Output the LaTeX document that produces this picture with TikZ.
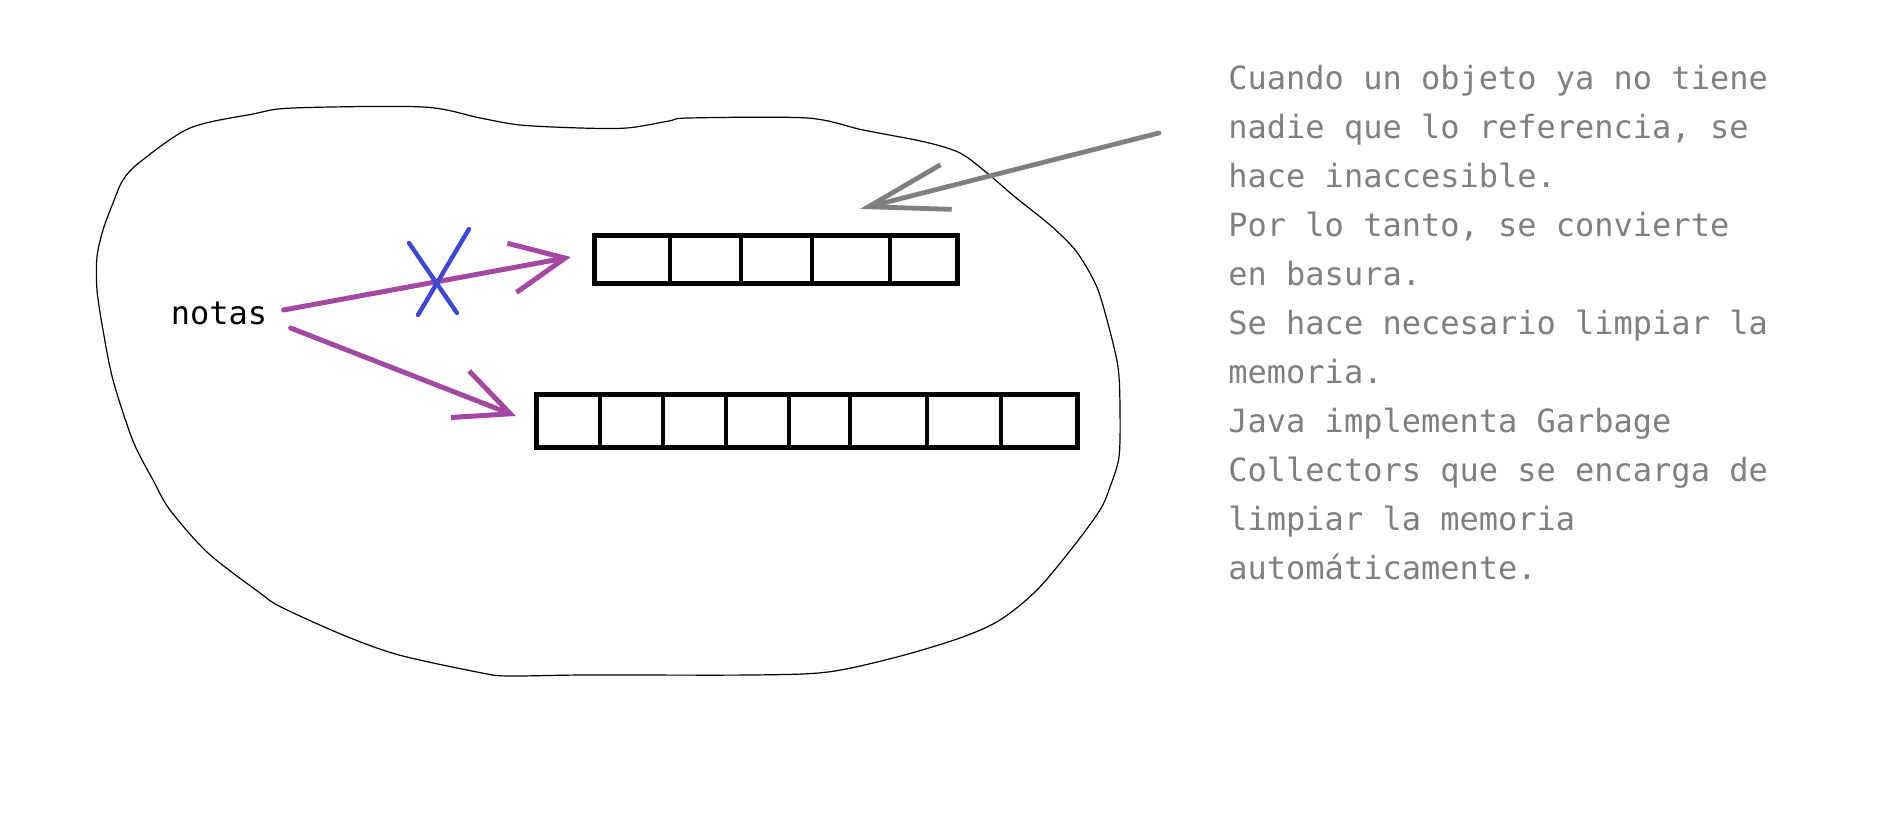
\documentclass[tikz,border=0pt]{standalone}
\usepackage{fontspec}
\newfontfamily\codefont{DejaVu Sans Mono}
\usetikzlibrary{arrows.meta, calc}
\definecolor{paintpurple}{RGB}{163,73,164}
\definecolor{paintblue}{RGB}{63,72,204}
\definecolor{notegray}{RGB}{127,127,127}

\begin{document}
\begin{tikzpicture}
  [
  x = 0.5pt, y = -0.5pt,
  % arreglo
  arreglo/.style = {rectangle, draw, line width = 2.6pt, inner sep = 0pt},
  % celda
  celda/.style = {draw, line width = 2.1pt},
  % referencia
  ref/.style = {draw, paintpurple, line width = 2.5pt, line cap = round,
    -{Straight Barb[length = 27pt, width = 25pt]}},
  % cruz
  cruz/.style = {draw, paintblue, line width = 2.2pt, line cap = round},
  % flecha nota
  nota/.style = {draw, notegray, line width = 2.4pt, line cap = round,
    -{Straight Barb[length = 40pt, width = 23pt]}},
  % texto
  texto/.style = {font = \codefont\fontsize{16}{24.5}\selectfont, inner sep = 0pt},
  ]
  \useasboundingbox (0,0) rectangle (1888,838);

  % memoria
  \draw [line width = 0.6pt] plot [smooth cycle, tension = 0.5] coordinates {
    (97,257) (103,230) (113,203) (123,180) (140,162) (190,128) (253,114)
    (293,108) (423,107) (480,118) (520,125) (580,128) (627,128) (669,121)
    (689,118) (807,118) (863,130) (925,142) (960,153) (987,173) (1015,197)
    (1050,225) (1076,251) (1096,285) (1107,320) (1118,367) (1120,410)
    (1119,457) (1110,487) (1100,510) (1073,547) (1037,590) (1000,620)
    (960,638) (897,657) (828,672) (752,675) (586,675) (509,676) (482,673)
    (399,655) (343,635) (281,607) (260,593) (208,553) (170,510) (153,480)
    (133,441) (113,380) (103,330) (97,290)};

  % nodes
  \node [texto] (notas) at (219,313) {notas};
  \node [arreglo, minimum width = 181.5pt, minimum height = 24pt] (corto) at (776,259.5) {};
  \node [arreglo, minimum width = 270.5pt, minimum height = 26.5pt] (largo) at (807,421) {};
  \node [texto, text = notegray, align = left, anchor = north west] (explica) at (1228,65)
    {Cuando un objeto ya no tiene\\
     nadie que lo referencia, se\\
     hace inaccesible.\\
     Por lo tanto, se convierte\\
     en basura.\\
     Se hace necesario limpiar la\\
     memoria.\\
     Java implementa Garbage\\
     Collectors que se encarga de\\
     limpiar la memoria\\
     automáticamente.};
  \coordinate (desde) at (1159,133);

  % celdas
  \foreach \x in {670,741,812,890}
    \draw [celda] (\x,0 |- corto.north) -- (\x,0 |- corto.south);
  \foreach \x in {600,663,726,789,850,927,1001}
    \draw [celda] (\x,0 |- largo.north) -- (\x,0 |- largo.south);

  % path
  \path [ref] ($(notas.east)+(16,-3)$) -- ($(corto.west)+(-21,-2.5)$);
  \path [ref] ($(notas.east)+(23,15)$) -- ($(largo.west)+(-18,-5)$);
  \path [nota] (desde) -- ($(corto.north east)+(-100,-24)$);

  % referencia rota
  \draw [cruz] (409,243) -- (457,313);
  \draw [cruz] (469,229) -- (418,315);

\end{tikzpicture}
\end{document}
